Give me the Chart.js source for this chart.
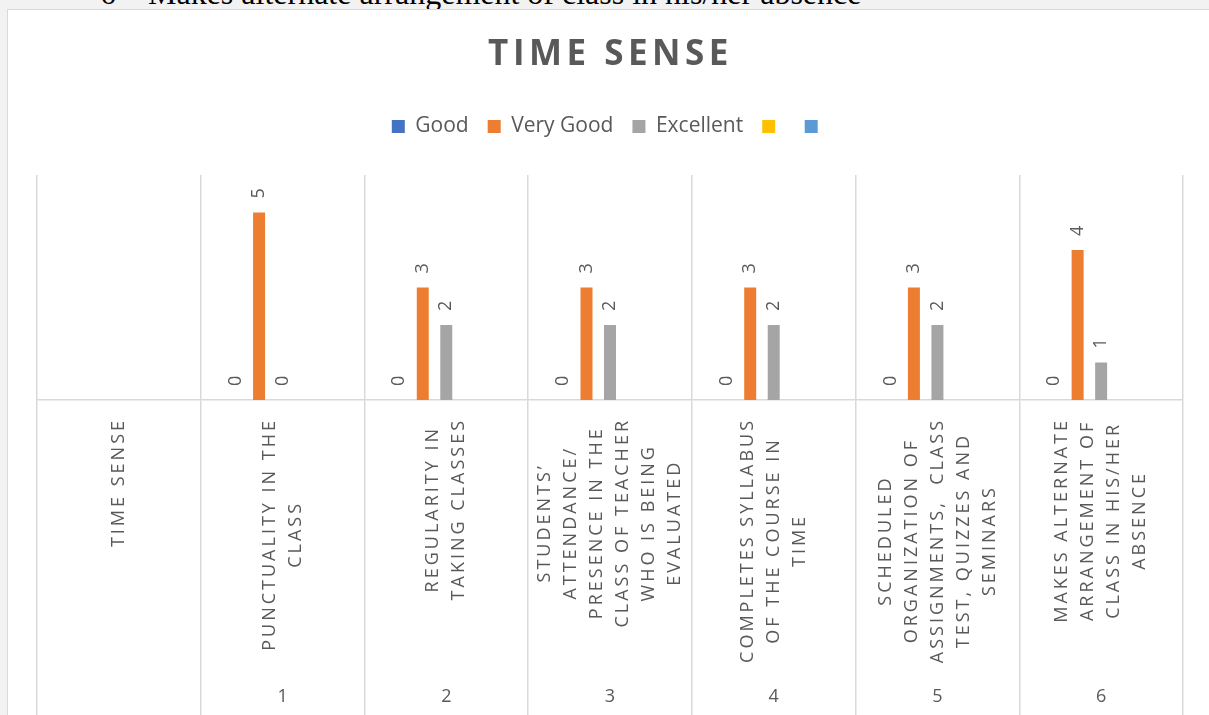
<!DOCTYPE html>
<html>
<head>
<meta charset="utf-8">
<script src="https://cdn.jsdelivr.net/npm/chart.js@4.4.1/dist/chart.umd.min.js"></script>
<style>
html, body { margin: 0; padding: 0; background: #f2f2f2; overflow: hidden; width: 1209px; height: 715px; }
.doc-line { position: absolute; top: -23px; line-height: 32px; font-family: "Liberation Serif", "Times New Roman", serif; font-size: 32px; color: #000; white-space: pre; }
#chart-box { position: absolute; left: 7px; top: 9px; width: 1210px; height: 720px; border: 1px solid #d9d9d9; background: #fff; }
#chart-wrap { position: absolute; left: 0; top: 0; width: 1201px; height: 705px; }
</style>
</head>
<body>
<div class="doc-line" style="left:100px">6</div>
<div class="doc-line" style="left:148px">Makes alternate arrangement of class in his/her absence</div>
<div id="chart-box"><div id="chart-wrap"><canvas id="myChart"></canvas></div></div>
<script>
var chart = document.getElementById('myChart');

const titleText = 'TIME SENSE';

// category labels, one array of lines per category
const categoryLines = [
    ['TIME SENSE'],
    ['PUNCTUALITY IN THE', 'CLASS'],
    ['REGULARITY IN', 'TAKING CLASSES'],
    ['STUDENTS\u2019', 'ATTENDANCE/', 'PRESENCE IN THE', 'CLASS OF TEACHER', 'WHO IS BEING', 'EVALUATED'],
    ['COMPLETES SYLLABUS', 'OF THE COURSE IN', 'TIME'],
    ['SCHEDULED', 'ORGANIZATION OF', 'ASSIGNMENTS,  CLASS', 'TEST, QUIZZES AND', 'SEMINARS'],
    ['MAKES ALTERNATE', 'ARRANGEMENT OF', 'CLASS IN HIS/HER', 'ABSENCE'],
];
const itemNumbers = ['', '1', '2', '3', '4', '5', '6'];

const seriesNames = ['Good', 'Very Good', 'Excellent', '', ''];
const good      = [null, 0, 0, 0, 0, 0, 0];
const veryGood  = [null, 5, 3, 3, 3, 3, 4];
const excellent = [null, 0, 2, 2, 2, 2, 1];
const series4   = [null, null, null, null, null, null, null];
const series5   = [null, null, null, null, null, null, null];
const seriesColors = ['#4472C4', '#ED7D31', '#A5A5A5', '#FFC000', '#5B9BD5'];

const textColor = '#595959';
const lineColor = '#d9d9d9';

// push the plot area down below the legend
const legendGap = {
    id: 'legendGap',
    beforeInit(c) {
        const fit = c.legend.fit;
        c.legend.fit = function () {
            fit.bind(c.legend)();
            this.height += 28;
        };
    }
};

const chartTitle = {
    id: 'chartTitle',
    afterDraw(c) {
        const ctx = c.ctx;
        ctx.save();
        ctx.font = 'bold 35px "Open Sans"';
        ctx.letterSpacing = '4.5px';
        ctx.fillStyle = textColor;
        ctx.textAlign = 'center';
        ctx.textBaseline = 'middle';
        ctx.fillText(titleText, c.width / 2 + 2, 45);
        ctx.restore();
    }
};

// rotated value labels above each bar
const valueLabels = {
    id: 'valueLabels',
    afterDatasetsDraw(c) {
        const ctx = c.ctx;
        ctx.save();
        ctx.font = '18px "Open Sans"';
        ctx.fillStyle = textColor;
        ctx.textAlign = 'left';
        ctx.textBaseline = 'middle';
        c.data.datasets.forEach((ds, i) => {
            const meta = c.getDatasetMeta(i);
            meta.data.forEach((bar, j) => {
                const v = ds.data[j];
                if (v === null) return;
                ctx.save();
                ctx.translate(bar.x, bar.y - 14);
                ctx.rotate(-Math.PI / 2);
                ctx.fillText(String(v), 0, 0);
                ctx.restore();
            });
        });
        ctx.restore();
    }
};

// two level category axis: rotated names, then item numbers
const categoryAxisLabels = {
    id: 'categoryAxisLabels',
    afterDraw(c) {
        const ctx = c.ctx;
        const xs = c.scales.x;
        const top = xs.top + 18;
        ctx.save();
        ctx.fillStyle = textColor;
        ctx.font = '18px "Open Sans"';
        ctx.letterSpacing = '3px';
        ctx.textAlign = 'center';
        ctx.textBaseline = 'middle';
        c.data.labels.forEach((lines, i) => {
            const x = xs.getPixelForValue(i);
            const maxW = Math.max(...lines.map(l => ctx.measureText(l).width));
            ctx.save();
            ctx.translate(x, top + maxW / 2);
            ctx.rotate(-Math.PI / 2);
            lines.forEach((line, j) => {
                ctx.fillText(line, 0, (j - (lines.length - 1) / 2) * 26);
            });
            ctx.restore();
        });
        ctx.letterSpacing = '0px';
        itemNumbers.forEach((n, i) => {
            ctx.fillText(n, xs.getPixelForValue(i), xs.bottom - 18);
        });
        ctx.restore();
    }
};

function generate_chart() {
    const seriesData = [good, veryGood, excellent, series4, series5];
    const datasets = seriesNames.map((name, i) => ({
        label: name,
        data: seriesData[i],
        backgroundColor: seriesColors[i],
        borderWidth: 0,
        categoryPercentage: 0.718,
        barPercentage: 0.51,
    }));

    new Chart(chart.getContext('2d'), {
        type: 'bar',
        data: { labels: categoryLines, datasets: datasets },
        options: {
            responsive: true,
            maintainAspectRatio: false,
            animation: false,
            layout: { padding: { left: 29, right: 26, top: 87, bottom: 0 } },
            plugins: {
                legend: {
                    position: 'top',
                    labels: {
                        font: { family: 'Open Sans', size: 21 },
                        color: textColor,
                        boxWidth: 13,
                        boxHeight: 13,
                        padding: 19,
                    },
                },
                title: { display: false },
                tooltip: { enabled: false },
            },
            scales: {
                x: {
                    offset: true,
                    grid: {
                        offset: true,
                        color: lineColor,
                        tickColor: lineColor,
                        lineWidth: 1.5,
                        drawTicks: true,
                        tickLength: 315,
                    },
                    border: { display: true, color: lineColor, width: 1.5 },
                    ticks: { display: false },
                },
                y: { display: false, min: 0, max: 6 },
            },
        },
        plugins: [legendGap, chartTitle, valueLabels, categoryAxisLabels],
    });
}

if (chart) {
    generate_chart();
}
</script>
</body>
</html>
